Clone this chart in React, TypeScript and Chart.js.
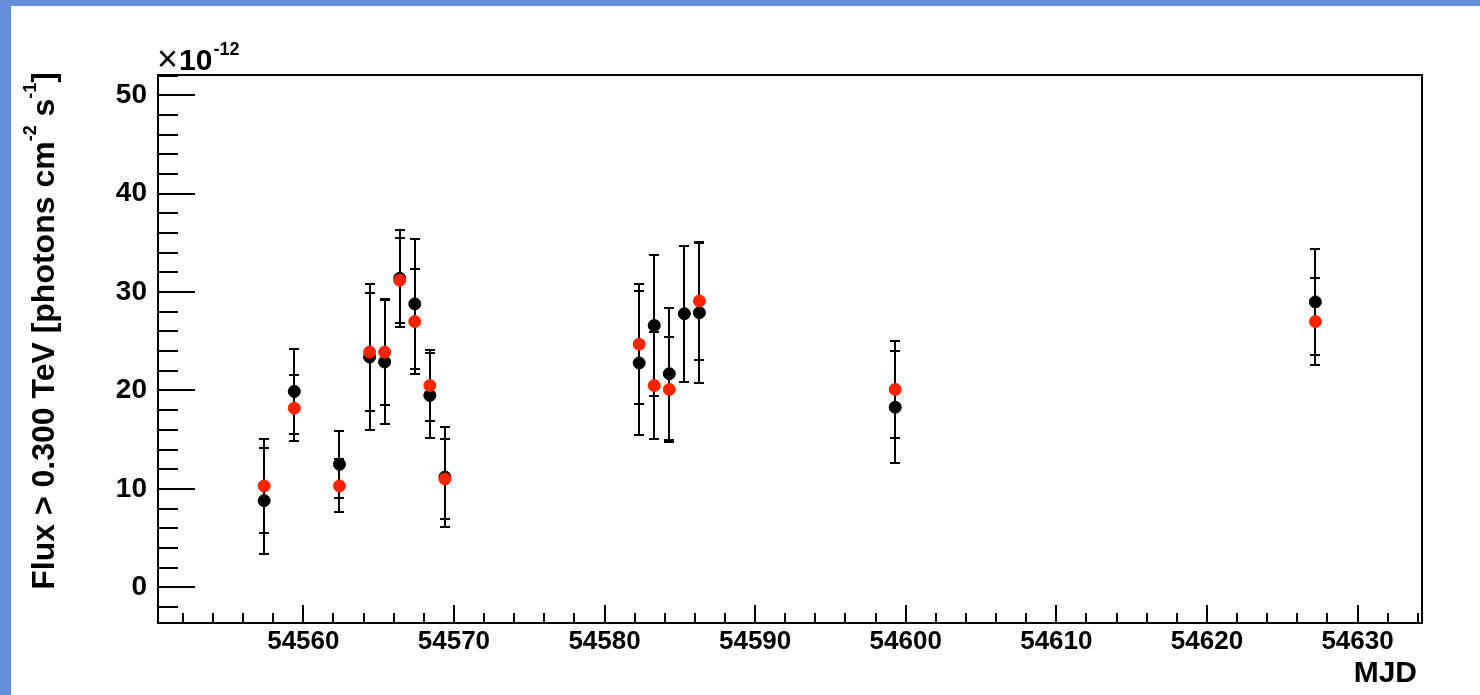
import { useEffect, useRef } from "react";
import { Chart, registerables } from "chart.js";

Chart.register(...registerables);

// ---------------- data ----------------
const MJD = [
  54557.4, 54559.4, 54562.4, 54564.4, 54565.4, 54566.4, 54567.4, 54568.4,
  54569.4, 54582.3, 54583.3, 54584.3, 54585.3, 54586.3, 54599.3, 54627.2,
];
const BLACK_FLUX = [8.8, 19.9, 12.5, 23.4, 22.9, 31.4, 28.8, 19.5, 11.2, 22.8, 26.6, 21.7, 27.8, 27.9, 18.3, 29.0];
const BLACK_ERR = [5.4, 4.3, 3.4, 7.4, 6.3, 4.9, 6.6, 4.3, 5.05, 7.3, 7.2, 6.7, 6.9, 7.1, 5.7, 5.4];
const RED_FLUX: (number | null)[] = [10.3, 18.2, 10.3, 23.9, 23.9, 31.2, 27.0, 20.5, 11.0, 24.7, 20.5, 20.1, null, 29.1, 20.1, 27.0];
const RED_ERR = [4.8, 3.35, 2.7, 6.0, 5.35, 4.3, 5.3, 3.6, 4.05, 6.1, 5.4, 5.35, 0, 6.0, 4.9, 4.4];

const X_TICKS = [54560, 54570, 54580, 54590, 54600, 54610, 54620, 54630];
const Y_TICKS = [0, 10, 20, 30, 40, 50];
const X_TITLE = "MJD";
const Y_TITLE: { t: string; sup?: boolean }[] = [
  { t: "Flux > 0.300 TeV [photons cm" },
  { t: "-2", sup: true },
  { t: " s" },
  { t: "-1", sup: true },
  { t: "]" },
];
const EXPONENT = { times: "\u00d7", base: "10", sup: "-12" };

const FONT = "'Liberation Sans', Arial, sans-serif";
const RED = "#ff2400";

const errorBarPlugin = {
  id: "errorBars",
  beforeDatasetDraw(chart: any, args: any) {
    const ds = chart.data.datasets[args.index];
    const errs: number[] = ds.errors || [];
    const xs = chart.scales.x;
    const ys = chart.scales.y;
    const ctx = chart.ctx;
    ctx.save();
    ctx.strokeStyle = "#000";
    ctx.lineWidth = 2;
    ds.data.forEach((p: any, i: number) => {
      if (p.y == null) return;
      const px = Math.round(xs.getPixelForValue(p.x));
      const top = Math.round(ys.getPixelForValue(p.y + errs[i]));
      const bot = Math.round(ys.getPixelForValue(p.y - errs[i]));
      ctx.beginPath();
      ctx.moveTo(px, top);
      ctx.lineTo(px, bot);
      ctx.moveTo(px - 5, top);
      ctx.lineTo(px + 5, top);
      ctx.moveTo(px - 5, bot);
      ctx.lineTo(px + 5, bot);
      ctx.stroke();
    });
    ctx.restore();
  },
};

const framePlugin = {
  id: "rootFrame",
  beforeDatasetsDraw(chart: any) {
    const { ctx, chartArea } = chart;
    const xs = chart.scales.x;
    const ys = chart.scales.y;
    const { left, right, top, bottom } = chartArea;
    ctx.save();
    ctx.strokeStyle = "#000";
    ctx.lineWidth = 2;
    ctx.strokeRect(left, top, right - left, bottom - top);
    ctx.beginPath();
    // y ticks (inward)
    for (let v = -2; v <= 52; v += 2) {
      const py = Math.round(ys.getPixelForValue(v));
      if (py < top + 1 || py > bottom - 1) continue;
      const len = v % 10 === 0 ? 37 : 20;
      ctx.moveTo(left, py);
      ctx.lineTo(left + len, py);
    }
    // x ticks (inward)
    for (let v = 54552; v <= 54634; v += 2) {
      const px = Math.round(xs.getPixelForValue(v));
      if (px < left + 1 || px > right - 1) continue;
      const len = v % 10 === 0 ? 18 : 10;
      ctx.moveTo(px, bottom);
      ctx.lineTo(px, bottom - len);
    }
    ctx.stroke();
    ctx.restore();
  },
  afterDraw(chart: any) {
    const { ctx, chartArea } = chart;
    ctx.save();
    ctx.fillStyle = "#000";
    ctx.textBaseline = "alphabetic";

    // exponent label
    ctx.textAlign = "left";
    let bx = chartArea.left - 1;
    const by = chartArea.top - 5;
    ctx.font = `36px ${FONT}`;
    ctx.fillText(EXPONENT.times, bx, by + 1);
    bx += ctx.measureText(EXPONENT.times).width + 1;
    ctx.font = `bold 30px ${FONT}`;
    ctx.fillText(EXPONENT.base, bx, by);
    bx += ctx.measureText(EXPONENT.base).width;
    ctx.font = `bold 18px ${FONT}`;
    ctx.fillText(EXPONENT.sup, bx + 1, by - 15);

    // x title
    ctx.font = `bold 30px ${FONT}`;
    ctx.textAlign = "right";
    ctx.fillText(X_TITLE, chartArea.right - 5, 676);

    // y title (rotated, right-aligned to top)
    const mainF = `bold 32px ${FONT}`;
    const supF = `bold 18px ${FONT}`;
    let total = 0;
    const widths = Y_TITLE.map((s) => {
      ctx.font = s.sup ? supF : mainF;
      const w = ctx.measureText(s.t).width;
      total += w;
      return w;
    });
    ctx.translate(43, 66);
    ctx.rotate(-Math.PI / 2);
    ctx.textAlign = "left";
    let cx = -total;
    Y_TITLE.forEach((s, i) => {
      ctx.font = s.sup ? supF : mainF;
      ctx.fillText(s.t, cx, s.sup ? -18 : 0);
      cx += widths[i];
    });
    ctx.restore();
  },
};

export default function App() {
  const ref = useRef<HTMLCanvasElement | null>(null);

  useEffect(() => {
    if (!ref.current) return;
    const blackData = MJD.map((x, i) => ({ x, y: BLACK_FLUX[i] }));
    const redData = MJD.map((x, i) => ({ x, y: RED_FLUX[i] }));
    const tickFont = { family: FONT, weight: "bold" as const };
    const chart = new Chart(ref.current, {
      type: "scatter",
      data: {
        datasets: [
          {
            label: "black",
            data: blackData,
            errors: BLACK_ERR,
            pointRadius: 6,
            pointBorderWidth: 1,
            backgroundColor: "#000",
            borderColor: "#000",
            order: 1,
          } as any,
          {
            label: "red",
            data: redData,
            errors: RED_ERR,
            pointRadius: 6,
            pointBorderWidth: 1,
            backgroundColor: RED,
            borderColor: RED,
            order: 0,
          } as any,
        ],
      },
      options: {
        animation: false,
        responsive: false,
        events: [],
        layout: { padding: { left: 0, top: 69, right: 58, bottom: 0 } },
        plugins: { legend: { display: false }, tooltip: { enabled: false } },
        scales: {
          x: {
            type: "linear",
            min: 54550.35,
            max: 54634.28,
            grid: { display: false, drawTicks: false },
            border: { display: false },
            ticks: {
              color: "#000",
              font: { ...tickFont, size: 26 },
              padding: 3,
              autoSkip: false,
              maxRotation: 0,
              callback: (v: any) => String(v),
            },
            afterBuildTicks: (s: any) => {
              s.ticks = X_TICKS.map((value) => ({ value }));
            },
            afterFit: (s: any) => {
              s.height = 72;
            },
          },
          y: {
            type: "linear",
            min: -3.63,
            max: 52.06,
            grid: { display: false, drawTicks: false },
            border: { display: false },
            ticks: {
              color: "#000",
              font: { ...tickFont, size: 28 },
              padding: 11,
              callback: (v: any) => String(v),
            },
            afterBuildTicks: (s: any) => {
              s.ticks = Y_TICKS.map((value) => ({ value }));
            },
            afterFit: (s: any) => {
              s.width = 147;
            },
          },
        },
      },
      plugins: [errorBarPlugin, framePlugin],
    });
    return () => chart.destroy();
  }, []);

  return (
    <div
      style={{
        position: "fixed",
        left: 0,
        top: 0,
        width: 1480,
        height: 695,
        background: "#628edb",
        overflow: "hidden",
      }}
    >
      <canvas
        ref={ref}
        width={1469}
        height={689}
        style={{ position: "absolute", left: 11, top: 6, width: 1469, height: 689, background: "#fff" }}
      />
    </div>
  );
}
